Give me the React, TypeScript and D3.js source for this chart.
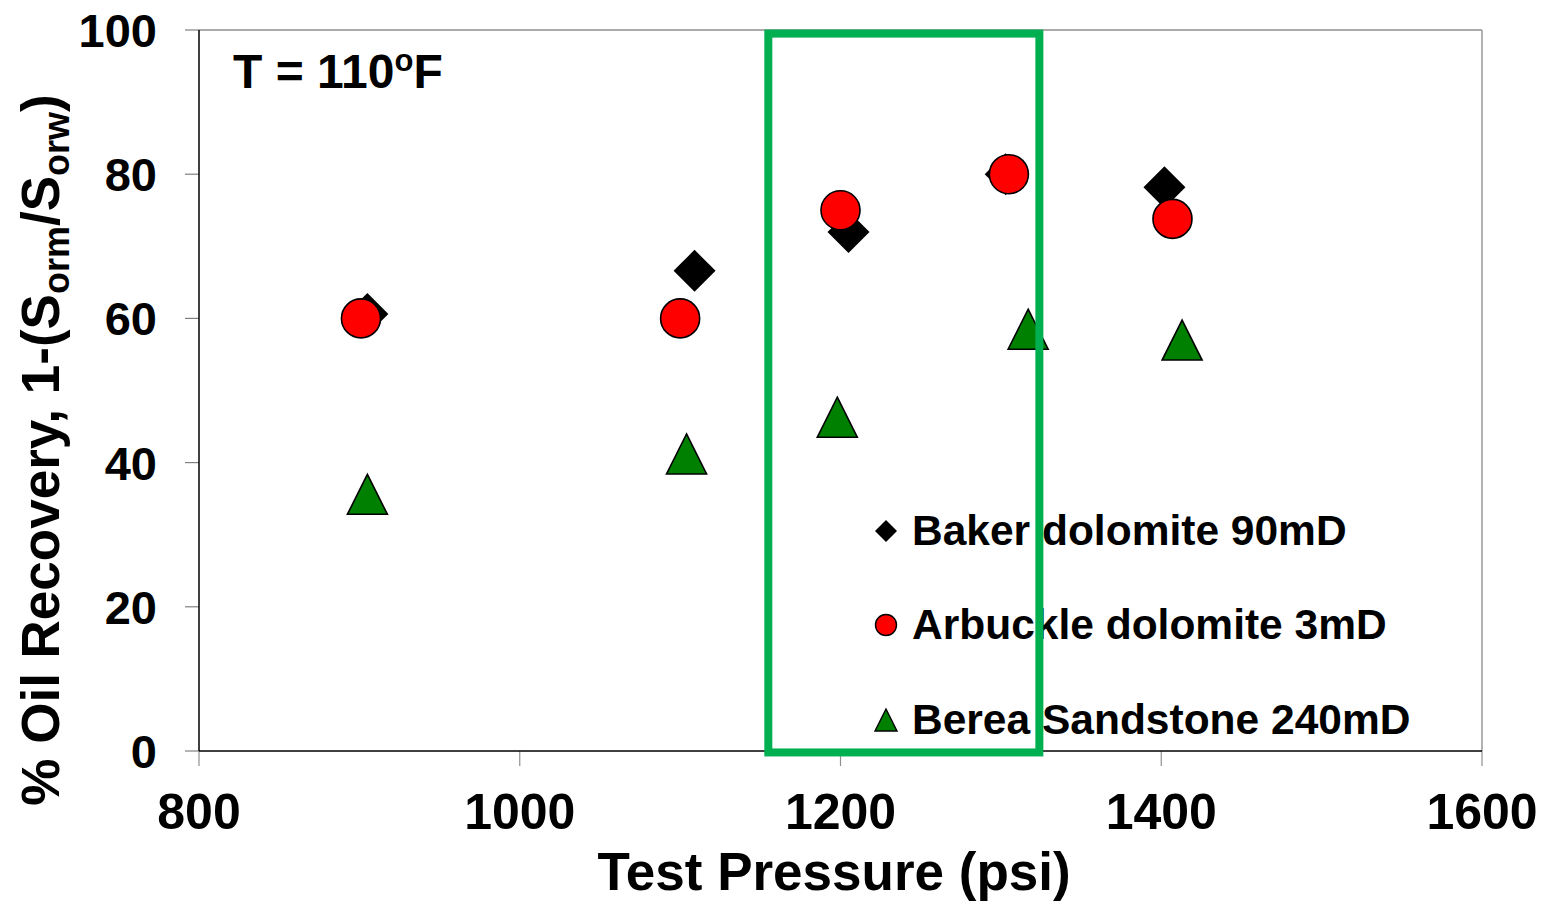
import React from "react";
import * as d3 from "d3";

const xTicks = [800, 1000, 1200, 1400, 1600];
const yTicks = [0, 20, 40, 60, 80, 100];

const bakerP = [905, 1109, 1205, 1303, 1402];
const bakerR = [60.6, 66.6, 72, 80, 78.2];
const arbP = [901, 1100, 1200, 1305, 1407];
const arbR = [60, 60, 75, 80, 73.8];
const bereaP = [905, 1104, 1198, 1317, 1413];
const bereaR = [35.6, 41.2, 46.3, 58.5, 57];

const seriesNames = ["Baker dolomite 90mD", "Arbuckle dolomite 3mD", "Berea Sandstone 240mD"];
const highlightP = [1155, 1324];
const highlightR = [-0.2, 99.5];

const W = 1555;
const H = 904;
const FONT = "'Liberation Sans', Arial, sans-serif";

export default function App() {
  const x = d3.scaleLinear().domain([800, 1600]).range([199, 1482]);
  const y = d3.scaleLinear().domain([0, 100]).range([751, 30]);

  const diamond = (cx: number, cy: number, h: number) =>
    `M${cx},${cy - h}L${cx + h},${cy}L${cx},${cy + h}L${cx - h},${cy}Z`;
  const triangle = (cx: number, cy: number, h: number) =>
    `M${cx},${cy - h}L${cx + h},${cy + h}L${cx - h},${cy + h}Z`;

  const legendY = [531, 625, 720];

  return (
    <svg
      width={W}
      height={H}
      style={{ position: "absolute", left: 0, top: 0, background: "#fff" }}
      fontFamily={FONT}
      fontWeight="bold"
    >
      <rect x={0} y={0} width={W} height={H} fill="#fff" />
      {/* plot frame */}
      <line x1={x(800)} x2={x(1600)} y1={y(100)} y2={y(100)} stroke="#595959" strokeWidth={1.2} />
      <line x1={x(1600)} x2={x(1600)} y1={y(100)} y2={y(0)} stroke="#9a9a9a" strokeWidth={1.5} />
      {/* y ticks */}
      {yTicks.map((t) => (
        <g key={"yt" + t}>
          <line x1={185} x2={x(800)} y1={y(t)} y2={y(t)} stroke="#808080" strokeWidth={1.2} />
          <text x={157} y={y(t)} dy="0.36em" textAnchor="end" fontSize={47}>
            {t}
          </text>
        </g>
      ))}
      {/* x ticks */}
      {xTicks.map((t) => (
        <g key={"xt" + t}>
          <line x1={x(t)} x2={x(t)} y1={y(0)} y2={766} stroke="#909090" strokeWidth={1.2} />
          <text x={x(t)} y={829} textAnchor="middle" fontSize={50}>
            {t}
          </text>
        </g>
      ))}
      {/* axes */}
      <line x1={x(800)} x2={x(800)} y1={y(100)} y2={y(0)} stroke="#000" strokeWidth={1.5} />
      <line x1={x(800)} x2={x(1600)} y1={y(0)} y2={y(0)} stroke="#000" strokeWidth={1.5} />

      {/* axis titles */}
      <text x={834} y={890} textAnchor="middle" fontSize={53}>
        Test Pressure (psi)
      </text>
      <text transform="translate(59,450) rotate(-90)" textAnchor="middle" fontSize={53}>
        % Oil Recovery, 1-(S
        <tspan fontSize={36} dy={10}>orm</tspan>
        <tspan dy={-10}>/S</tspan>
        <tspan fontSize={36} dy={10}>orw</tspan>
        <tspan dy={-10}>)</tspan>
      </text>

      <text x={233} y={88} fontSize={48}>
        T = 110
        <tspan fontSize={31} dy={-17}>o</tspan>
        <tspan dy={17}>F</tspan>
      </text>

      {/* Baker */}
      {bakerP.map((p, i) => (
        <path key={"b" + i} d={diamond(x(p), y(bakerR[i]), 21)} fill="#000" />
      ))}
      {/* Arbuckle */}
      {arbP.map((p, i) => (
        <circle key={"a" + i} cx={x(p)} cy={y(arbR[i])} r={19.5} fill="#ff0000" stroke="#000" strokeWidth={1.6} />
      ))}
      {/* Berea */}
      {bereaP.map((p, i) => (
        <path key={"c" + i} d={triangle(x(p), y(bereaR[i]), 20)} fill="#008000" stroke="#000" strokeWidth={1.6} />
      ))}

      {/* legend */}
      <path d={diamond(886, legendY[0], 11)} fill="#000" />
      <circle cx={886} cy={legendY[1]} r={10.5} fill="#ff0000" stroke="#000" strokeWidth={1.4} />
      <path d={triangle(886, legendY[2], 11)} fill="#008000" stroke="#000" strokeWidth={1.4} />
      {seriesNames.map((s, i) => (
        <text key={s} x={912} y={legendY[i] + 14} fontSize={42.5}>
          {s}
        </text>
      ))}

      {/* highlight box */}
      <rect
        x={x(highlightP[0])}
        y={y(highlightR[1])}
        width={x(highlightP[1]) - x(highlightP[0])}
        height={y(highlightR[0]) - y(highlightR[1])}
        fill="none"
        stroke="#00b050"
        strokeWidth={8}
      />
    </svg>
  );
}
